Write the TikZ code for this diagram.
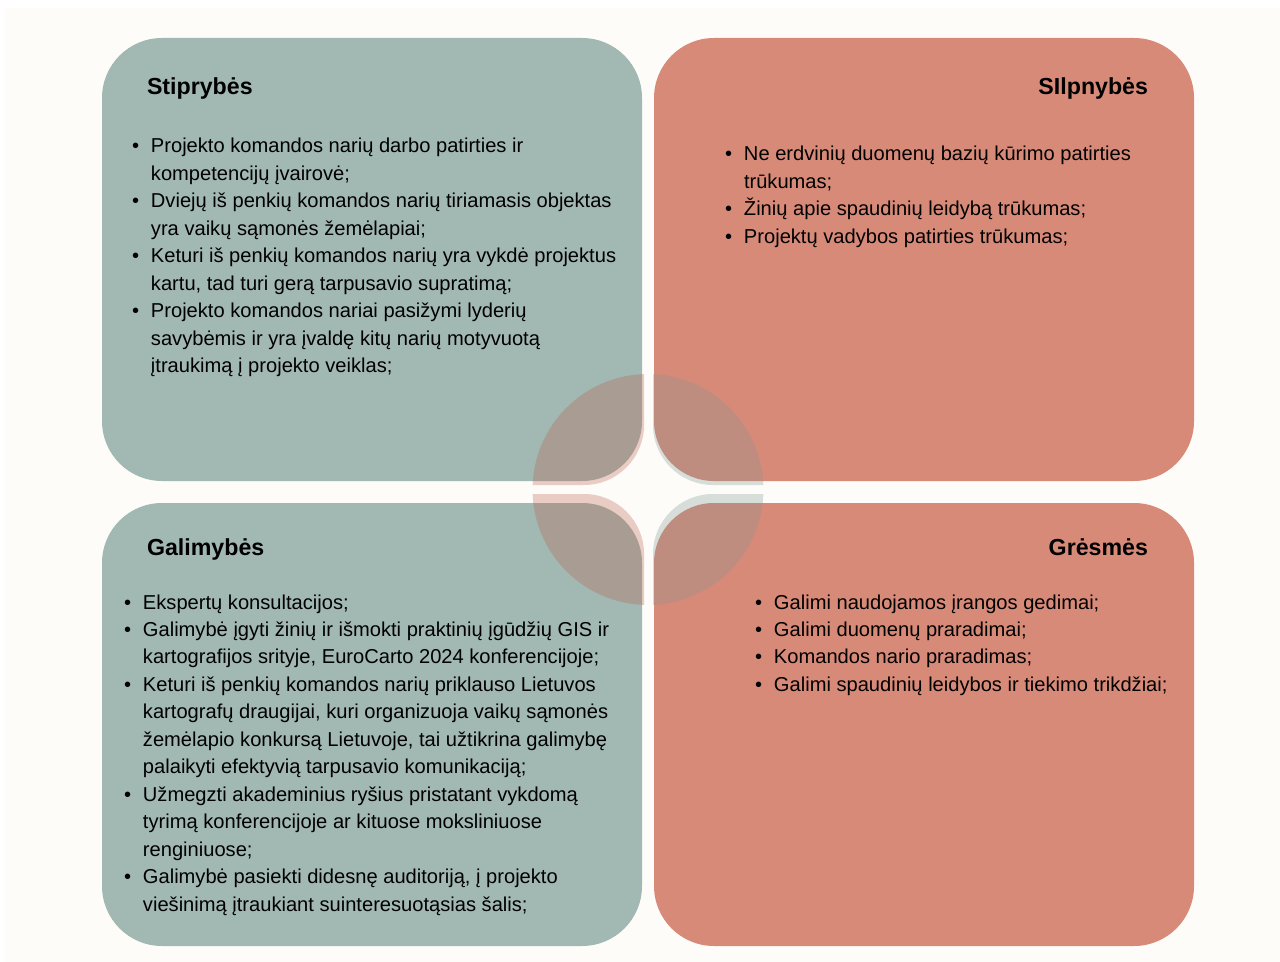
\documentclass[tikz,border=0pt]{standalone}
\usepackage{fontspec}
\setmainfont{Liberation Sans}
\newcommand*{\bodyfont}{\fontsize{11.45pt}{15.65pt}\selectfont}
\newcommand*{\headfont}{\fontsize{13.2pt}{16pt}\selectfont\bfseries}
\definecolor{paper}{RGB}{253,252,249}
\definecolor{S}{RGB}{162,184,179}
\definecolor{W}{RGB}{216,138,121}
\definecolor{Lc}{RGB}{188,94,72}
\definecolor{Rc}{RGB}{130,150,145}
\usetikzlibrary{positioning}
\tikzstyle{base}=[inner sep=0pt, outer sep=0pt, x=0.02cm, y=-0.02cm]
\tikzstyle{box}=[rounded corners=1.2cm]
\tikzstyle{piece}=[rounded corners=1.2cm, fill opacity=0.3]
\tikzstyle{head}=[font=\headfont, inner sep=0pt]
\tikzstyle{list}=[font=\bodyfont, anchor=base west, inner sep=0pt]
\newcommand*{\swot}{@{}l@{\hspace{6.8pt}}l@{}}

\begin{document}
\begin{tikzpicture}[base]
    \useasboundingbox (0,0) rectangle (1280,962);
    \fill [white] (0,0) rectangle (1280,962);
    \fill [paper] (5,8) rectangle (1280,962);
        \fill [S, box] (102,38) rectangle (642,481);
        \fill [W, box] (654,38) rectangle (1194,481);
        \fill [S, box] (102,503) rectangle (642,946);
        \fill [W, box] (654,503) rectangle (1194,946);
    \begin{scope}
        \clip (648,489.5) circle (2.31cm);
        \fill [Lc, piece] (400,300) rectangle (644,485);
        \fill [Rc, piece] (653,300) rectangle (900,485);
        \fill [Lc, piece] (400,494) rectangle (644,700);
        \fill [Rc, piece] (653,494) rectangle (900,700);
    \end{scope}
        \node [head, anchor=base west] (stipr) at (147,95) {Stiprybės};
        \node [head, anchor=base east] (silpn) at (1148,95) {SIlpnybės};
        \node [head, anchor=base west] (galim) at (147,555) {Galimybės};
        \node [head, anchor=base east] (gresm) at (1148,555) {Grėsmės};
        \node [list] (stiprlist) at (132,153) {\begin{tabular}[t]{\swot}
            \textbullet & Projekto komandos narių darbo patirties ir\\
            & kompetencijų įvairovė;\\
            \textbullet & Dviejų iš penkių komandos narių tiriamasis objektas\\
            & yra vaikų sąmonės žemėlapiai;\\
            \textbullet & Keturi iš penkių komandos narių yra vykdė projektus\\
            & kartu, tad turi gerą tarpusavio supratimą;\\
            \textbullet & Projekto komandos nariai pasižymi lyderių\\
            & savybėmis ir yra įvaldę kitų narių motyvuotą\\
            & įtraukimą į projekto veiklas;
        \end{tabular}};
        \node [list] (silpnlist) at (725,161) {\begin{tabular}[t]{\swot}
            \textbullet & Ne erdvinių duomenų bazių kūrimo patirties\\
            & trūkumas;\\
            \textbullet & Žinių apie spaudinių leidybą trūkumas;\\
            \textbullet & Projektų vadybos patirties trūkumas;
        \end{tabular}};
        \node [list] (galimlist) at (124,609) {\begin{tabular}[t]{\swot}
            \textbullet & Ekspertų konsultacijos;\\
            \textbullet & Galimybė įgyti žinių ir išmokti praktinių įgūdžių GIS ir\\
            & kartografijos srityje, EuroCarto 2024 konferencijoje;\\
            \textbullet & Keturi iš penkių komandos narių priklauso Lietuvos\\
            & kartografų draugijai, kuri organizuoja vaikų sąmonės\\
            & žemėlapio konkursą Lietuvoje, tai užtikrina galimybę\\
            & palaikyti efektyvią tarpusavio komunikaciją;\\
            \textbullet & Užmegzti akademinius ryšius pristatant vykdomą\\
            & tyrimą konferencijoje ar kituose moksliniuose\\
            & renginiuose;\\
            \textbullet & Galimybė pasiekti didesnę auditoriją, į projekto\\
            & viešinimą įtraukiant suinteresuotąsias šalis;
        \end{tabular}};
        \node [list] (gresmlist) at (755,609) {\begin{tabular}[t]{\swot}
            \textbullet & Galimi naudojamos įrangos gedimai;\\
            \textbullet & Galimi duomenų praradimai;\\
            \textbullet & Komandos nario praradimas;\\
            \textbullet & Galimi spaudinių leidybos ir tiekimo trikdžiai;
        \end{tabular}};
\end{tikzpicture}
\end{document}
